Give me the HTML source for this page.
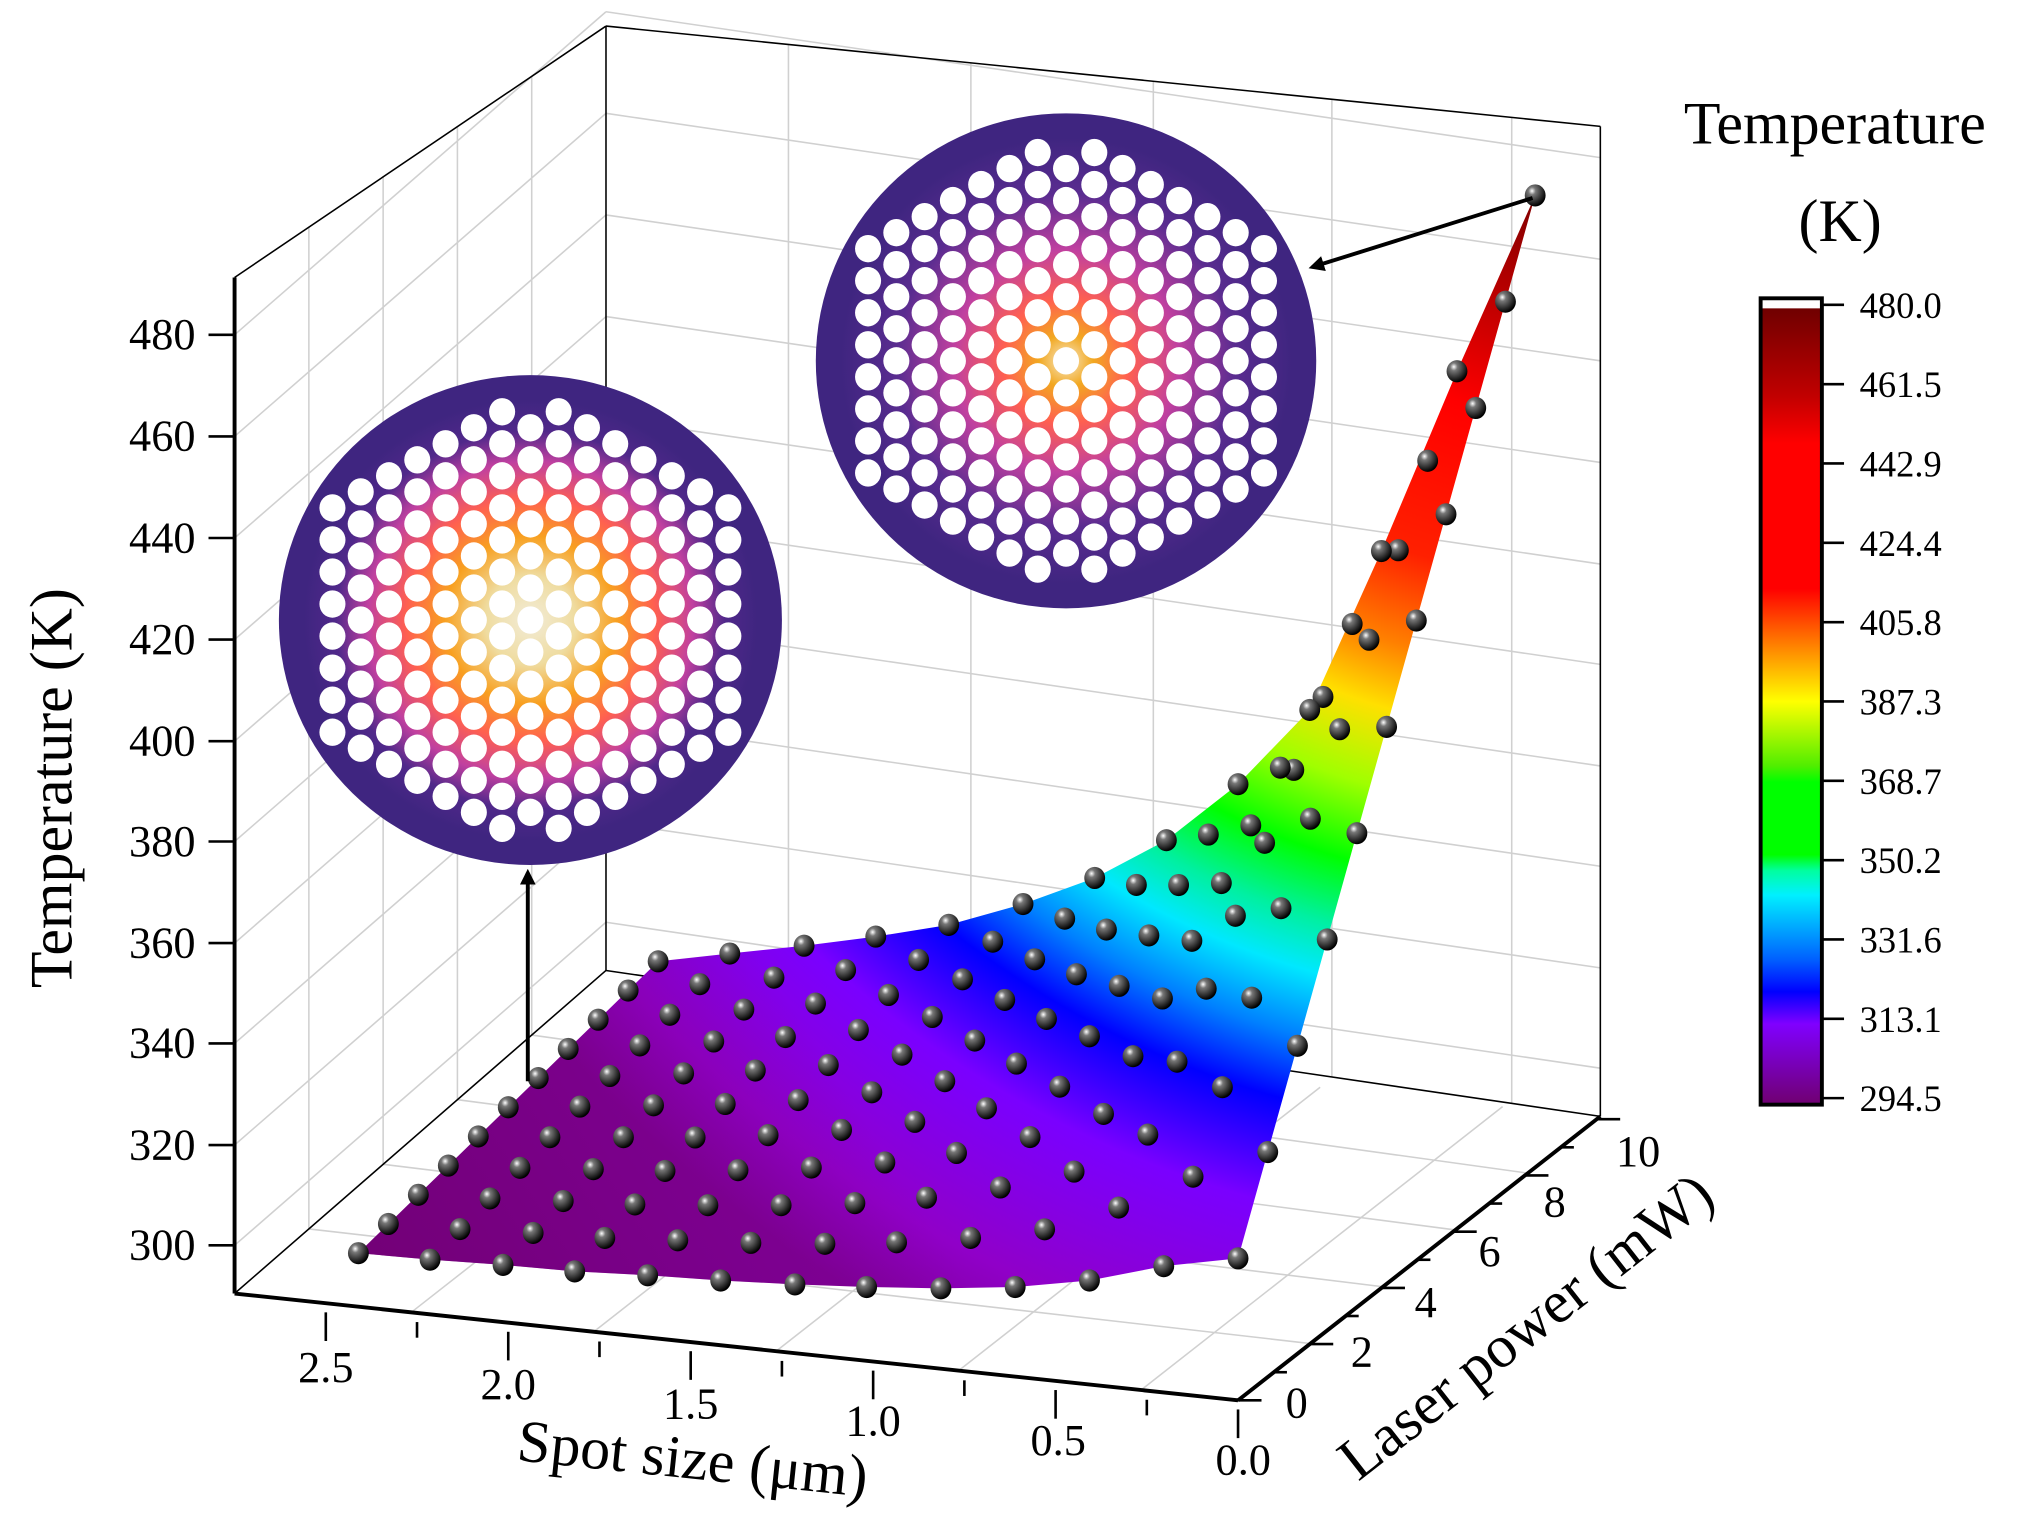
<!DOCTYPE html>
<html><head><meta charset="utf-8"><style>
html,body{margin:0;padding:0;background:#fff;}
svg{display:block;}
text{font-family:"Liberation Serif",serif;fill:#000;}
</style></head><body>
<svg id="s" width="2033" height="1528" viewBox="0 0 1560 1173" preserveAspectRatio="none" xmlns="http://www.w3.org/2000/svg">
<defs>
<radialGradient id="surf" gradientUnits="userSpaceOnUse" cx="1180" cy="140" r="1000">
<stop offset="0" stop-color="#7a0000"/>
<stop offset="0.1" stop-color="#c00000"/>
<stop offset="0.18" stop-color="#ff0000"/>
<stop offset="0.3" stop-color="#ff2000"/>
<stop offset="0.37" stop-color="#ff8000"/>
<stop offset="0.42" stop-color="#ffe000"/>
<stop offset="0.48" stop-color="#a0ff00"/>
<stop offset="0.54" stop-color="#00ff00"/>
<stop offset="0.59" stop-color="#00f0a0"/>
<stop offset="0.63" stop-color="#00e8ff"/>
<stop offset="0.68" stop-color="#0080ff"/>
<stop offset="0.73" stop-color="#0000ff"/>
<stop offset="0.81" stop-color="#7a00ff"/>
<stop offset="0.93" stop-color="#9000c8"/>
<stop offset="1" stop-color="#80009a"/>
</radialGradient>
<linearGradient id="dark" gradientUnits="userSpaceOnUse" x1="280" y1="965" x2="600" y2="760">
<stop offset="0" stop-color="#6a0060" stop-opacity="0.6"/>
<stop offset="1" stop-color="#6a0060" stop-opacity="0"/>
</linearGradient>
<linearGradient id="cb" x1="0" y1="0" x2="0" y2="1">
<stop offset="0" stop-color="#fff"/><stop offset="0.012" stop-color="#fff"/>
<stop offset="0.013" stop-color="#700000"/>
<stop offset="0.12" stop-color="#c00000"/>
<stop offset="0.18" stop-color="#ff0000"/>
<stop offset="0.36" stop-color="#ff0000"/>
<stop offset="0.43" stop-color="#ff8000"/>
<stop offset="0.5" stop-color="#ffff00"/>
<stop offset="0.58" stop-color="#50ee00"/>
<stop offset="0.6" stop-color="#00ff00"/>
<stop offset="0.69" stop-color="#00ff00"/>
<stop offset="0.71" stop-color="#00ffa0"/>
<stop offset="0.74" stop-color="#00f0ff"/>
<stop offset="0.82" stop-color="#0060ff"/>
<stop offset="0.86" stop-color="#0000ff"/>
<stop offset="0.9" stop-color="#8000ff"/>
<stop offset="1" stop-color="#700070"/>
</linearGradient>
<radialGradient id="ballg" cx="0.35" cy="0.3" r="0.7">
<stop offset="0" stop-color="#fff"/><stop offset="0.25" stop-color="#777"/><stop offset="1" stop-color="#000"/>
</radialGradient>
<radialGradient id="hot1" cx="0.5" cy="0.5" r="0.5">
<stop offset="0" stop-color="#f2ecd8"/><stop offset="0.2" stop-color="#efdca0"/>
<stop offset="0.38" stop-color="#f8a020"/><stop offset="0.55" stop-color="#ff6050"/>
<stop offset="0.72" stop-color="#c040a0"/><stop offset="0.86" stop-color="#50288a"/><stop offset="1" stop-color="#3f2580"/>
</radialGradient>
<radialGradient id="hot2" cx="0.5" cy="0.5" r="0.5">
<stop offset="0" stop-color="#f6e8c8"/><stop offset="0.12" stop-color="#f2a820"/>
<stop offset="0.28" stop-color="#ff6050"/><stop offset="0.5" stop-color="#c040a0"/>
<stop offset="0.75" stop-color="#5a2c90"/><stop offset="1" stop-color="#3f2580"/>
</radialGradient>
<marker id="ah" markerWidth="12" markerHeight="12" refX="9" refY="6" orient="auto" markerUnits="userSpaceOnUse">
<path d="M0,0 L12,6 L0,12 Z" fill="#000"/></marker>
</defs>
<g id="grid" stroke="#d0d0d0" stroke-width="1.2" fill="none"></g>
<g id="frame" stroke="#000" stroke-width="1.2" fill="none">
<line x1="180" y1="213" x2="465" y2="20"/>
<line x1="465" y1="20" x2="1228" y2="97"/>
<line x1="465" y1="20" x2="465" y2="745"/>
<line x1="1228" y1="97" x2="1228" y2="857"/>
<line x1="465" y1="745" x2="1228" y2="857"/>
<line x1="180" y1="993" x2="465" y2="745"/>
</g>
<g id="ins"></g>
<g id="surfg"></g>
<g id="balls"></g>
<line x1="1176" y1="152" x2="1007" y2="205" stroke="#000" stroke-width="3" marker-end="url(#ah)"/>
<line x1="405" y1="830" x2="405" y2="670" stroke="#000" stroke-width="3" marker-end="url(#ah)"/>
<g stroke="#000" stroke-width="3">
<line x1="180" y1="213" x2="180" y2="993"/>
<line x1="180" y1="993" x2="950" y2="1075"/>
<line x1="950" y1="1075" x2="1228" y2="857"/>
</g>
<g id="ticks" stroke="#000" stroke-width="2"></g>
<g font-size="34" text-anchor="end">
<text x="150" y="268">480</text><text x="150" y="346">460</text><text x="150" y="424">440</text>
<text x="150" y="502">420</text><text x="150" y="580">400</text><text x="150" y="657">380</text>
<text x="150" y="735">360</text><text x="150" y="812">340</text><text x="150" y="890">320</text>
<text x="150" y="967">300</text>
</g>
<g font-size="34" text-anchor="middle">
<text x="250" y="1061">2.5</text><text x="390" y="1074">2.0</text><text x="530" y="1089">1.5</text>
<text x="670" y="1102">1.0</text><text x="812" y="1117">0.5</text><text x="954" y="1132">0.0</text>
<text x="995" y="1088">0</text><text x="1045" y="1049">2</text><text x="1094" y="1011">4</text>
<text x="1143" y="972">6</text><text x="1193" y="934">8</text><text x="1257" y="895">10</text>
</g>
<text font-size="46" transform="translate(55,605) rotate(-90)" text-anchor="middle">Temperature (K)</text>
<text font-size="46" transform="translate(530,1135) rotate(6)" text-anchor="middle">Spot size (μm)</text>
<text font-size="46" transform="translate(1180,1030) rotate(-38)" text-anchor="middle">Laser power (mW)</text>
<text font-size="46" x="1408" y="110" text-anchor="middle">Temperature</text>
<text font-size="46" x="1412" y="185" text-anchor="middle">(K)</text>
<rect x="1351" y="229" width="47" height="619" fill="url(#cb)" stroke="#000" stroke-width="3"/>
<g id="cbt" stroke="#000" stroke-width="2"></g>
<g id="cbl" font-size="28"></g>
</svg>
<script>
var NS="http://www.w3.org/2000/svg";
function el(p,t,a){var e=document.createElementNS(NS,t);for(var k in a)e.setAttribute(k,a[k]);document.getElementById(p).appendChild(e);return e;}
var ty=[257,335,413,491,569,646,724,801,879,956];
ty.forEach(function(y){
  el("grid","line",{x1:180,y1:y,x2:465,y2:y-248});
  el("grid","line",{x1:465,y1:y-248,x2:1228,y2:y-248+112});
});
[237,294,351,408].forEach(function(x){var f=(x-180)/285;el("grid","line",{x1:x,y1:213-193*f,x2:x,y2:993-248*f});});
[605,745,885,1022,1160].forEach(function(x){var f=(x-465)/763;el("grid","line",{x1:x,y1:20+77*f,x2:x,y2:745+112*f});});
for(var i=1;i<6;i++){var f=i/5.5;var ax=180+770*f, ay=993+82*f; el("grid","line",{x1:ax-5,y1:ay,x2:ax+278-5,y2:ay-218});}
for(var j=1;j<5;j++){var f=j/5;el("grid","line",{x1:180+285*f,y1:993-248*f,x2:950+278*f,y2:1075-218*f});}
ty.forEach(function(y){el("ticks","line",{x1:160,y1:y,x2:180,y2:y});});
for(var i=0;i<11;i++){var x=250+70*i, y=1000+(x-180)*82/770;var L=(i%2==0)?22:12;el("ticks","line",{x1:x,y1:y,x2:x,y2:y+L});}
for(var j=0;j<11;j++){var f=j/10*0.99;var x=950+278*f,y=1075-218*f;var L=(j%2==0)?18:10;el("ticks","line",{x1:x,y1:y,x2:x+L,y2:y});}
var cbv=["480.0","461.5","442.9","424.4","405.8","387.3","368.7","350.2","331.6","313.1","294.5"];
for(var k=0;k<11;k++){var y=234+60.9*k;el("cbt","line",{x1:1398,y1:y,x2:1415,y2:y});var t=el("cbl","text",{x:1427,y:y+10});t.textContent=cbv[k];}
function inset(cx,cy,rx,ry,g){
  el("ins","ellipse",{cx:cx,cy:cy,rx:rx,ry:ry,fill:"#3f2580"});
  el("ins","ellipse",{cx:cx,cy:cy,rx:rx*0.9,ry:ry*0.9,fill:"url(#"+g+")"});
  var dx=21.7,dy=24.6;
  for(var c=-8;c<=8;c++){for(var r=-8;r<=8;r++){
    var x=cx+c*dx,y=cy+r*dy+((c%2!=0)?dy/2:0);
    var ux=Math.abs(c*dx),uy=Math.abs(y-cy);
    if(ux>165)continue;
    if(uy>170)continue;
    if(uy+ux*0.58>196)continue;
    el("ins","ellipse",{cx:x,cy:y,rx:10,ry:10.5,fill:"#fff"});
  }}
}
inset(407,476,193,188,"hot1");
inset(818,277,192,190,"hot2");
var F=[[275,962],[330,967],[386,971],[441,976],[497,979],[553,983],[610,986],[665,988],[722,989],[779,988],[836,983],[893,972],[950,966]];
var B=[[505,738],[560,732],[617,726],[672,719],[728,710],[785,694],[840,674],[895,645],[950,602],[1005,545],[1060,423],[1118,285],[1178,150]];
var pts=[];F.forEach(function(p){pts.push(p);});
for(var j=1;j<=10;j++){var t=j/10;pts.push([950+(1178-950)*t,966+(150-966)*t]);}
for(var i=B.length-2;i>=0;i--)pts.push(B[i]);
for(var j=9;j>=1;j--){var t=j/10;pts.push([275+(505-275)*t,962+(738-962)*t]);}
var d=pts.map(function(p){return p.join(",");}).join(" ");
el("surfg","polygon",{points:d,fill:"url(#surf)"});
el("surfg","polygon",{points:d,fill:"url(#dark)"});
var N=F.length;
for(var j=0;j<=10;j++){var t=j/10;for(var i=0;i<N;i++){
  var x=F[i][0]+(B[i][0]-F[i][0])*t, y=F[i][1]+(B[i][1]-F[i][1])*t;
  el("balls","ellipse",{cx:x,cy:y,rx:8,ry:8.5,fill:"url(#ballg)"});
}}
</script>
</body></html>
